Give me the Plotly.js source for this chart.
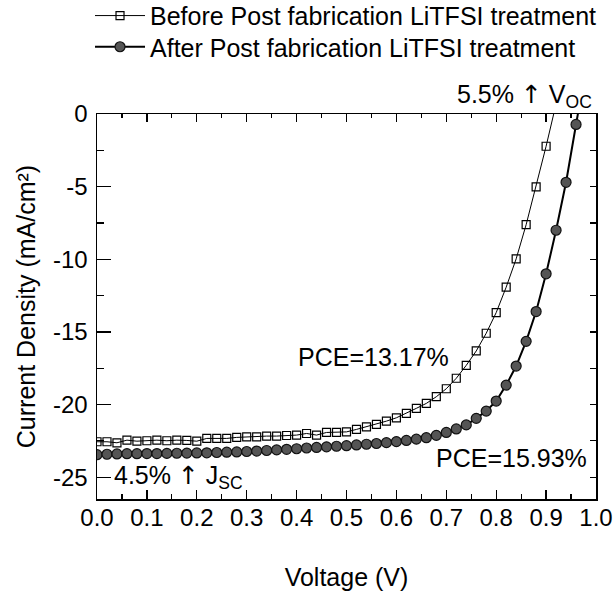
<!DOCTYPE html>
<html>
<head>
<meta charset="utf-8">
<script src="https://cdn.plot.ly/plotly-3.0.1.min.js"></script>
<style>html,body{margin:0;padding:0;background:#fff;}#chart{width:613px;height:594px;}</style>
</head>
<body>
<div id="chart"></div>
<script>
// Voltage (V)
const voltageBefore = [0.00,0.02,0.04,0.06,0.08,0.10,0.12,0.14,0.16,0.18,0.20,0.22,0.24,0.26,0.28,0.30,0.32,0.34,0.36,0.38,0.40,0.42,0.44,0.46,0.48,0.50,0.52,0.54,0.56,0.58,0.60,0.62,0.64,0.66,0.68,0.70,0.72,0.74,0.76,0.78,0.80,0.82,0.84,0.86,0.88,0.90,0.92];
// Current density (mA/cm2) before treatment
const jBefore = [-22.56,-22.56,-22.63,-22.45,-22.52,-22.49,-22.45,-22.49,-22.45,-22.47,-22.52,-22.33,-22.33,-22.33,-22.26,-22.22,-22.22,-22.17,-22.17,-22.13,-22.10,-21.99,-22.10,-21.92,-21.92,-21.88,-21.71,-21.53,-21.37,-21.14,-20.91,-20.61,-20.26,-19.92,-19.46,-18.91,-18.19,-17.30,-16.31,-15.09,-13.67,-11.92,-9.97,-7.62,-5.02,-2.22,0.70];
const voltageAfter = [0.00,0.02,0.04,0.06,0.08,0.10,0.12,0.14,0.16,0.18,0.20,0.22,0.24,0.26,0.28,0.30,0.32,0.34,0.36,0.38,0.40,0.42,0.44,0.46,0.48,0.50,0.52,0.54,0.56,0.58,0.60,0.62,0.64,0.66,0.68,0.70,0.72,0.74,0.76,0.78,0.80,0.82,0.84,0.86,0.88,0.90,0.92,0.94,0.96,0.98];
// Current density (mA/cm2) after treatment
const jAfter = [-23.45,-23.42,-23.40,-23.38,-23.38,-23.37,-23.37,-23.36,-23.35,-23.34,-23.33,-23.32,-23.30,-23.28,-23.26,-23.23,-23.20,-23.16,-23.12,-23.08,-23.04,-22.99,-22.95,-22.91,-22.87,-22.83,-22.78,-22.73,-22.68,-22.62,-22.55,-22.47,-22.38,-22.28,-22.12,-21.92,-21.68,-21.40,-20.95,-20.45,-19.76,-18.66,-17.35,-15.65,-13.60,-11.00,-8.00,-4.70,-0.72,3.20];

const legendBefore = 'Before Post fabrication LiTFSI treatment';
const legendAfter = 'After Post fabrication LiTFSI treatment';
const xTickVals = [0,0.1,0.2,0.3,0.4,0.5,0.6,0.7,0.8,0.9,1.0];
const xTickText = ['0.0','0.1','0.2','0.3','0.4','0.5','0.6','0.7','0.8','0.9','1.0'];
const yTickVals = [-25,-20,-15,-10,-5,0];
const yTickText = ['-25','-20','-15','-10','-5','0'];

const FONT = 'Liberation Sans, Arial, sans-serif';
const ARROW = '<span style="font-family:DejaVu Sans">↑</span>';

const traces = [
  {
    x: voltageBefore, y: jBefore, name: legendBefore, type: 'scatter', mode: 'lines+markers',
    legend: 'legend',
    line: {color: '#000', width: 1},
    marker: {symbol: 'square-open', size: 8, color: '#000', line: {width: 1.2, color: '#000'}},
    cliponaxis: true
  },
  {
    x: voltageAfter, y: jAfter, name: legendAfter, type: 'scatter', mode: 'lines+markers',
    legend: 'legend2',
    line: {color: '#000', width: 2},
    marker: {symbol: 'circle', size: 10, color: '#555', line: {width: 1.2, color: '#111'}},
    cliponaxis: true
  },
  {x: [], y: [], xaxis: 'x2', yaxis: 'y2', showlegend: false, hoverinfo: 'skip'}
];

const legendCommon = {
  xanchor: 'left', yanchor: 'middle',
  font: {family: FONT, size: 25, color: '#000'},
  bgcolor: 'rgba(0,0,0,0)', borderwidth: 0, itemwidth: 50
};

const layout = {
  width: 613, height: 594,
  margin: {l: 97, r: 17, t: 114, b: 95, pad: 0, autoexpand: false},
  paper_bgcolor: '#fff', plot_bgcolor: '#fff',
  font: {family: FONT, size: 24, color: '#000'},
  showlegend: true,
  legend: Object.assign({x: -0.014, y: 1.255}, legendCommon),
  legend2: Object.assign({x: -0.014, y: 1.174}, legendCommon),
  xaxis: {
    range: [0, 1.0], tickvals: xTickVals, ticktext: xTickText,
    ticks: 'inside', ticklen: 9, tickwidth: 1.3, tickcolor: '#000',
    minor: {dtick: 0.05, tick0: 0, ticks: 'inside', ticklen: 5, tickwidth: 1.2, tickcolor: '#000', showgrid: false},
    showline: true, linecolor: '#000', linewidth: 1.5, showgrid: false, zeroline: false,
    tickfont: {family: FONT, size: 24, color: '#000'},
    ticklabelstandoff: -3,
    title: {text: 'Voltage (V)', font: {family: FONT, size: 25, color: '#000'}, standoff: 38},
    automargin: false
  },
  yaxis: {
    range: [-26.5, 0], tickvals: yTickVals, ticktext: yTickText,
    ticks: 'inside', ticklen: 14, tickwidth: 1.3, tickcolor: '#000',
    minor: {dtick: 2.5, tick0: 0, ticks: 'inside', ticklen: 7, tickwidth: 1.2, tickcolor: '#000', showgrid: false},
    showline: true, linecolor: '#000', linewidth: 1.5, showgrid: false, zeroline: false,
    tickfont: {family: FONT, size: 24, color: '#000'},
    ticklabelstandoff: 3,
    title: {text: 'Current Density (mA/cm²)', font: {family: FONT, size: 25, color: '#000'}, standoff: 10},
    automargin: false
  },
  xaxis2: {
    overlaying: 'x', side: 'top', range: [0, 1.0], tickvals: xTickVals, showticklabels: false,
    ticks: 'inside', ticklen: 8, tickwidth: 1.2, tickcolor: '#000',
    minor: {dtick: 0.05, tick0: 0, ticks: 'inside', ticklen: 4, tickwidth: 1.1, tickcolor: '#000', showgrid: false},
    showline: true, linecolor: '#000', linewidth: 1.5, showgrid: false, zeroline: false
  },
  yaxis2: {
    overlaying: 'y', side: 'right', range: [-26.5, 0], tickvals: yTickVals, showticklabels: false,
    ticks: 'inside', ticklen: 6, tickwidth: 1.2, tickcolor: '#000',
    minor: {dtick: 2.5, tick0: 0, ticks: 'inside', ticklen: 6, tickwidth: 1.1, tickcolor: '#000', showgrid: false},
    showline: true, linecolor: '#000', linewidth: 1.5, showgrid: false, zeroline: false
  },
  annotations: [
    {xref: 'paper', yref: 'paper', x: 0.995, y: 1.0, xanchor: 'right', yanchor: 'bottom',
     text: '5.5% ' + ARROW + ' V<sub>OC</sub>', showarrow: false, font: {family: FONT, size: 25, color: '#000'}},
    {xref: 'x', yref: 'y', x: 0.555, y: -16.72, xanchor: 'center', yanchor: 'middle',
     text: 'PCE=13.17%', showarrow: false, font: {family: FONT, size: 25, color: '#000'}},
    {xref: 'x', yref: 'y', x: 0.83, y: -23.69, xanchor: 'center', yanchor: 'middle',
     text: 'PCE=15.93%', showarrow: false, font: {family: FONT, size: 25, color: '#000'}},
    {xref: 'x', yref: 'y', x: 0.03, y: -25.0, xanchor: 'left', yanchor: 'middle',
     text: '4.5% ' + ARROW + ' J<sub>SC</sub>', showarrow: false, font: {family: FONT, size: 25, color: '#000'}}
  ]
};

Plotly.newPlot('chart', traces, layout, {displayModeBar: false, staticPlot: true});
</script>
</body>
</html>
